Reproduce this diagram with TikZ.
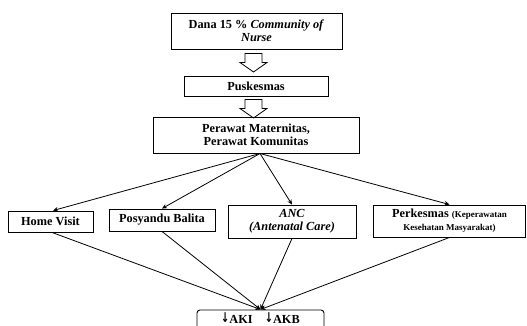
\documentclass[tikz,border=0pt]{standalone}
\usepackage{fontspec}
\setmainfont{Liberation Serif}
\newfontfamily\arrowfont{DejaVu Sans}
\usetikzlibrary{arrows.meta}
\newcommand\dnarrow{\raisebox{1.2pt}{\scalebox{0.65}[0.9]{\arrowfont\fontsize{15}{15}\selectfont ↓}}}
\begin{document}
\begin{tikzpicture}[x=1pt,y=-1pt,
  box/.style={draw,line width=0.9pt,inner sep=0pt,align=center,
    font=\fontsize{12.3}{13}\selectfont\bfseries},
  conn/.style={line width=0.8pt,-{Stealth[length=5pt,width=4.5pt]}},
  hollow/.pic={\draw[line width=0.8pt,fill=white] (-8.5,0) -- (8.5,0) -- (8.5,9) -- (13.5,9) -- (0,18.5) -- (-13.5,9) -- (-8.5,9) -- cycle;}]
\useasboundingbox (0,0) rectangle (527,326);
\clip (0,0) rectangle (527,326);
\node[box,minimum width=171pt,minimum height=36pt] (dana) at (256.5,31)
  {Dana 15 \% \textit{Community of}\\\textit{Nurse}};
\pic at (253.5,53.5) {hollow};
\node[box,minimum width=144pt,minimum height=20pt] (pusk) at (256,86) {Puskesmas};
\pic at (253.5,99.5) {hollow};
\node[box,minimum width=206pt,minimum height=36pt] (perawat) at (256,135)
  {Perawat Maternitas,\\Perawat Komunitas};
\node[box,minimum width=85pt,minimum height=21pt] (hv) at (50.5,221.5) {Home Visit};
\node[box,minimum width=106pt,minimum height=22pt] (pos) at (162,220) {Posyandu Balita};
\node[box,minimum width=128pt,minimum height=33pt] (anc) at (292,221.5)
  {\textit{ANC}\\\textit{(Antenatal Care)}};
\node[box,minimum width=152pt,minimum height=32pt] (perk) at (449.5,221)
  {Perkesmas {\fontsize{9}{11}\selectfont(Keperawatan}\\{\fontsize{9}{11}\selectfont Kesehatan Masyarakat)}};
\node[box,rounded corners=3pt,minimum width=127pt,minimum height=40pt] (res) at (260.5,330)
  {};
\node[font=\fontsize{12.3}{13}\selectfont\bfseries,inner sep=0pt,anchor=base] (restext) at (260.5,323.5)
  {\dnarrow AKI\quad\dnarrow AKB};
\coordinate (src) at (260,153.5);
\coordinate (sink) at (260.5,309.5);
\draw[conn] (src) -- (hv.north -| 53,0);
\draw[conn] (src) -- (pos.north);
\draw[conn] (src) -- (anc.north);
\draw[conn] (src) -- (perk.north);
\draw[conn] (hv.south -| 52,0) -- (sink);
\draw[conn] (pos.south) -- (sink);
\draw[conn] (anc.south) -- (sink);
\draw[conn] (perk.south) -- (sink);
\end{tikzpicture}
\end{document}
